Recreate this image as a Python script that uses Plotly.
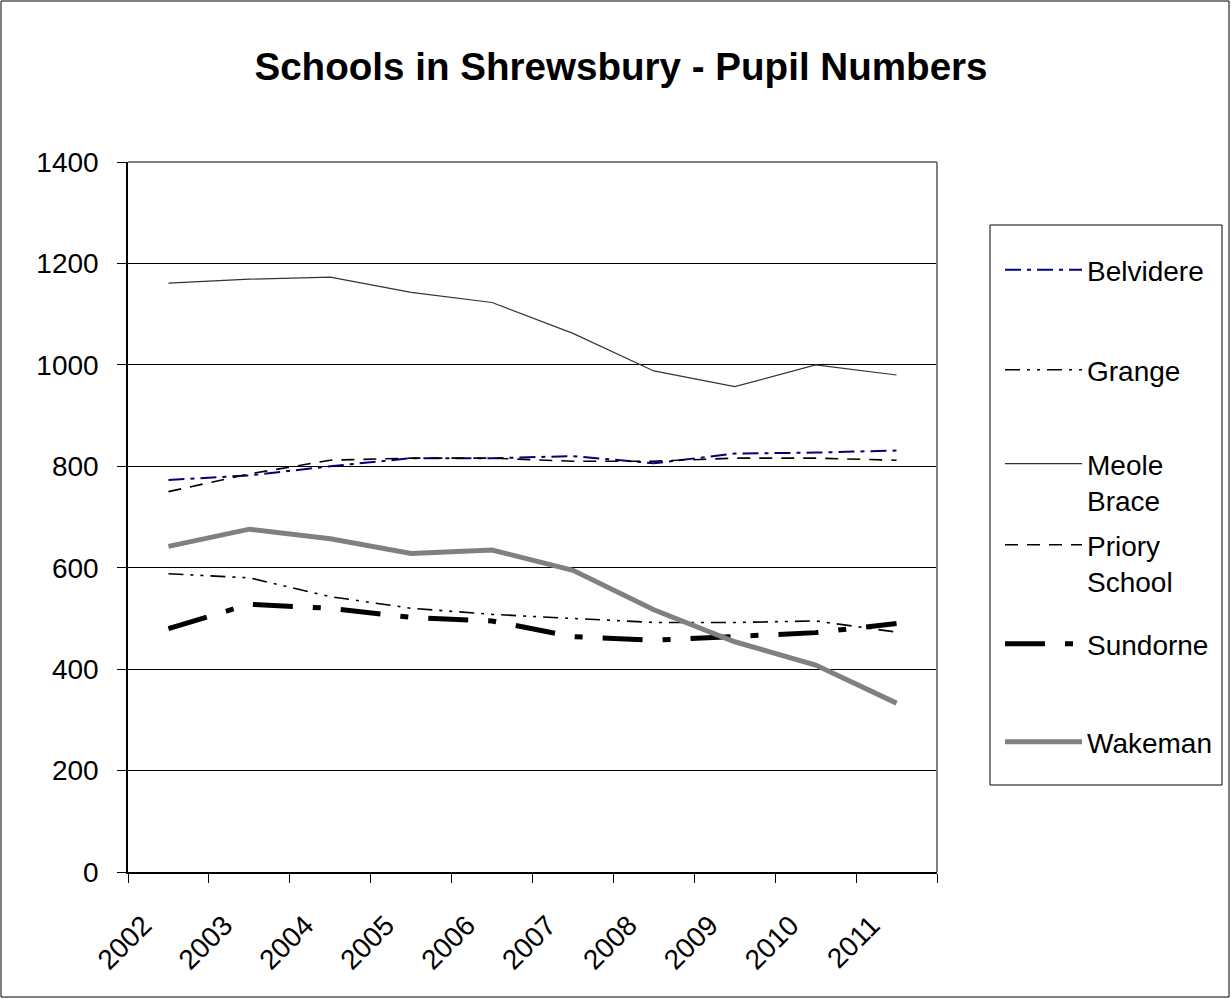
import plotly.graph_objects as go

years = ["2002", "2003", "2004", "2005", "2006", "2007", "2008", "2009", "2010", "2011"]

belvidere = [773, 782, 800, 816, 816, 820, 806, 825, 827, 831]
grange = [588, 580, 543, 520, 508, 500, 492, 492, 495, 473]
meole_brace = [1161, 1169, 1173, 1143, 1123, 1062, 988, 957, 1000, 980]
priory_school = [750, 785, 812, 816, 816, 810, 810, 816, 816, 812]
sundorne = [480, 528, 520, 502, 495, 464, 457, 464, 472, 490]
wakeman = [642, 676, 657, 628, 635, 595, 517, 454, 408, 333]

series = [
    ("Belvidere", belvidere, dict(color="#000080", width=2, dash="16px,6px,4px,6px")),
    ("Grange", grange, dict(color="#000000", width=1.6, dash="15px,7px,3px,7px,3px,7px")),
    ("Meole<br>Brace", meole_brace, dict(color="#333333", width=1.2)),
    ("Priory<br>School", priory_school, dict(color="#000000", width=1.6, dash="13px,9px")),
    ("Sundorne", sundorne, dict(color="#000000", width=5, dash="40px,20px,8px,20px")),
    ("Wakeman", wakeman, dict(color="#808080", width=5)),
]
legend_rows = [271, 371, 465, 546, 645, 743]

FONT = "Arial, Liberation Sans, sans-serif"

W, H = 1231, 999
L, R, T, B = 128, 937, 162, 872
pw, ph = R - L, B - T


def px_x(x):
    return (x - L) / pw


def px_y(y):
    return (B - y) / ph


fig = go.Figure()
legend_layouts = {}
for i, (name, vals, line) in enumerate(series):
    key = "legend" if i == 0 else f"legend{i + 1}"
    fig.add_trace(go.Scatter(x=years, y=vals, mode="lines", name=name,
                             line=line, legend=key))
    legend_layouts[key] = dict(
        x=px_x(1000), y=px_y(legend_rows[i] - 26), xanchor="left", yanchor="top",
        bgcolor="rgba(0,0,0,0)", borderwidth=0,
        font=dict(family=FONT, size=28, color="black"),
        valign="top", itemwidth=77)

fig.update_layout(
    width=W, height=H, autosize=False,
    margin=dict(l=L, r=W - R, t=T, b=H - B, pad=0),
    paper_bgcolor="white", plot_bgcolor="white",
    font=dict(family=FONT, size=28, color="black"),
    title=dict(text="<b>Schools in Shrewsbury - Pupil Numbers</b>",
               font=dict(family=FONT, size=38.6, color="black"),
               x=621 / W, xanchor="center", xref="container",
               y=1 - 66 / H, yanchor="middle", yref="container"),
    showlegend=True,
    xaxis=dict(type="category", range=[-0.5, 9.5], tickson="boundaries",
               ticks="outside", ticklen=9, tickwidth=1, tickcolor="black",
               showline=True, linecolor="black", linewidth=1.5,
               showgrid=False, tickangle=-45,
               ticklabelstandoff=24, ticklabelshift=-25,
               tickfont=dict(family=FONT, size=28, color="black"),
               fixedrange=True, zeroline=False),
    yaxis=dict(range=[0, 1400], dtick=200, tick0=0,
               ticks="outside", ticklen=9, tickwidth=1, tickcolor="black",
               showline=True, linecolor="black", linewidth=1.5,
               showgrid=True, gridcolor="black", gridwidth=1,
               zeroline=False, ticklabelstandoff=13,
               tickfont=dict(family=FONT, size=28, color="black"),
               fixedrange=True),
    shapes=[
        dict(type="rect", xref="paper", yref="paper",
             x0=px_x(1), x1=px_x(1229), y0=px_y(997), y1=px_y(1),
             line=dict(color="black", width=1), fillcolor="rgba(0,0,0,0)", layer="above"),
        dict(type="rect", xref="paper", yref="paper",
             x0=px_x(990), x1=px_x(1222), y0=px_y(785), y1=px_y(225),
             line=dict(color="black", width=1), fillcolor="rgba(0,0,0,0)", layer="above"),
        dict(type="line", xref="paper", yref="paper", x0=0, x1=1, y0=1, y1=1,
             line=dict(color="#808080", width=2), layer="above"),
        dict(type="line", xref="paper", yref="paper", x0=1, x1=1, y0=0, y1=1,
             line=dict(color="#808080", width=2), layer="above"),
    ],
    **legend_layouts,
)

fig.write_html("out.html")
